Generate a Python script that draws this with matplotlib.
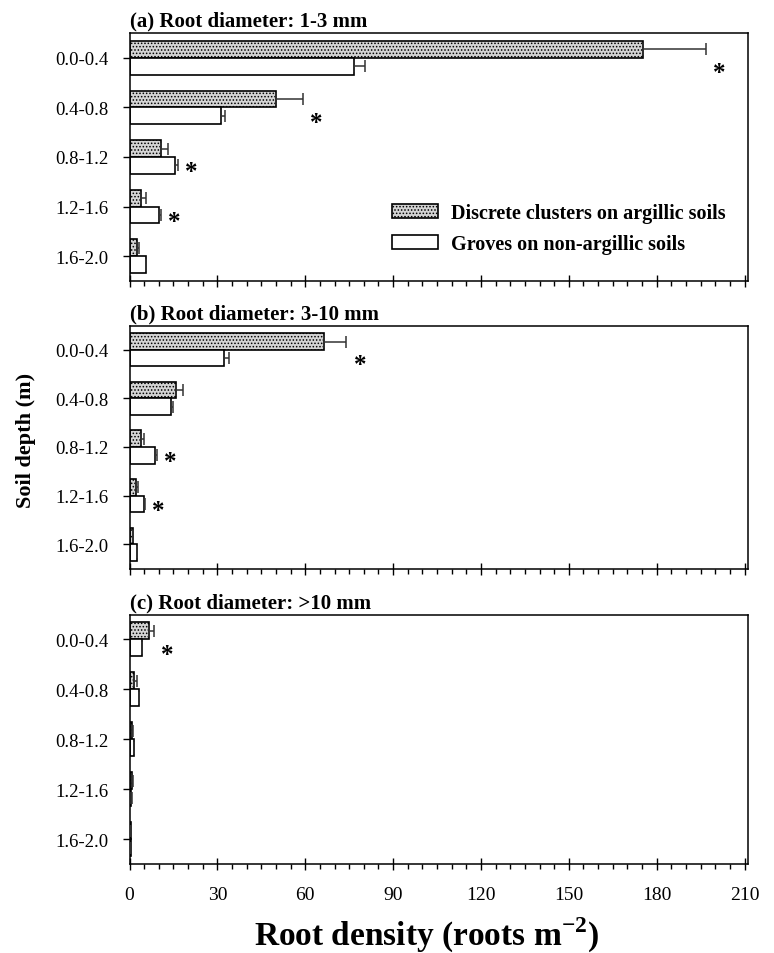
import matplotlib
matplotlib.use('Agg')
import matplotlib.pyplot as plt
import numpy as np
from matplotlib.patches import Patch

plt.rcParams['font.family'] = ['Liberation Serif', 'DejaVu Serif']
plt.rcParams['hatch.linewidth'] = 0.7

depths = ['0.0-0.4', '0.4-0.8', '0.8-1.2', '1.2-1.6', '1.6-2.0']
titles = ['(a) Root diameter: 1-3 mm', '(b) Root diameter: 3-10 mm', '(c) Root diameter: >10 mm']

# discrete clusters on argillic soils (mean, SE)
clusters_a = [175.3, 49.9, 10.9, 4.0, 2.7]
clusters_a_se = [21.5, 9.3, 2.3, 1.5, 0.7]
clusters_b = [66.3, 15.8, 3.9, 2.2, 1.1]
clusters_b_se = [7.7, 2.4, 1.1, 0.6, 0.2]
clusters_c = [6.8, 1.7, 0.9, 0.9, 0.35]
clusters_c_se = [1.5, 0.8, 0.2, 0.2, 0.05]

# groves on non-argillic soils (mean, SE)
groves_a = [76.7, 31.1, 15.5, 10.2, 5.5]
groves_a_se = [3.7, 1.6, 1.1, 0.6, 0.3]
groves_b = [32.3, 14.1, 8.8, 5.0, 2.5]
groves_b_se = [1.7, 0.6, 0.5, 0.3, 0.1]
groves_c = [4.1, 3.1, 1.4, 0.6, 0.35]
groves_c_se = [0.3, 0.2, 0.1, 0.1, 0.05]

# significant difference markers
sig_a = [True, True, True, True, False]
sig_b = [True, False, True, True, False]
sig_c = [True, False, False, False, False]

panels = [
    (clusters_a, clusters_a_se, groves_a, groves_a_se, sig_a),
    (clusters_b, clusters_b_se, groves_b, groves_b_se, sig_b),
    (clusters_c, clusters_c_se, groves_c, groves_c_se, sig_c),
]

fig = plt.figure(figsize=(7.74, 9.54), dpi=100)
W, H = 774, 954
left_px, right_px = 129.5, 747.5
# (top, bottom) of each panel in pixels
rows_px = [(34, 282), (326.5, 569.5), (615.5, 865)]

y = np.arange(len(depths))
h = 0.34
axes = []
for i, ((cm, cse, gm, gse, sig), (top, bot)) in enumerate(zip(panels, rows_px)):
    ax = fig.add_axes([left_px / W, 1 - bot / H, (right_px - left_px) / W, (bot - top) / H])
    axes.append(ax)
    ax.barh(y - h / 2, cm, height=h, color='#d4d4d4', edgecolor='black',
            hatch='.....', linewidth=1.2, zorder=2)
    ax.barh(y + h / 2, gm, height=h, color='white', edgecolor='black',
            linewidth=1.2, zorder=2)
    ax.errorbar(cm, y - h / 2, xerr=[np.zeros(len(cm)), cse], fmt='none',
                ecolor='#333333', elinewidth=1.1, capsize=4.5, capthick=1.1, zorder=3)
    ax.errorbar(gm, y + h / 2, xerr=[np.zeros(len(gm)), gse], fmt='none',
                ecolor='#333333', elinewidth=1.1, capsize=4.5, capthick=1.1, zorder=3)
    for j, s in enumerate(sig):
        if s:
            xs = max(cm[j] + cse[j], gm[j] + gse[j]) + 2.5
            ax.text(xs, y[j] + 0.3, '*', fontsize=18, fontweight='bold',
                    ha='left', va='center')

    ax.set_xlim(0, 211)
    ax.set_ylim(4.5, -0.5)
    ax.set_yticks(y)
    ax.set_yticklabels(depths, fontsize=13.5)
    ax.set_xticks(np.arange(0, 211, 30))
    ax.set_xticks(np.arange(0, 211, 5), minor=True)
    ax.tick_params(axis='x', which='major', direction='inout', length=9, width=1)
    ax.tick_params(axis='x', which='minor', direction='out', length=3.5, width=1)
    ax.tick_params(axis='y', which='major', direction='out', length=5, width=1, pad=10)
    ax.tick_params(top=False, right=False)
    if i < 2:
        ax.tick_params(axis='x', labelbottom=False)
    else:
        ax.tick_params(axis='x', labelsize=14, pad=11)
    for sp in ax.spines.values():
        sp.set_linewidth(1.1)
    ax.text(0.0, 1.01, titles[i], transform=ax.transAxes, fontsize=15,
            fontweight='bold', ha='left', va='bottom')

leg_handles = [Patch(facecolor='#d4d4d4', edgecolor='black', hatch='.....', linewidth=1.2),
               Patch(facecolor='white', edgecolor='black', linewidth=1.2)]
axes[0].legend(leg_handles, ['Discrete clusters on argillic soils', 'Groves on non-argillic soils'],
               loc='center left', bbox_to_anchor=(0.425, 0.212), frameon=False,
               borderpad=0, borderaxespad=0, handlelength=2.3, handleheight=0.65,
               handletextpad=0.6, labelspacing=0.55,
               prop={'weight': 'bold', 'size': 14.5})

fig.text(26 / W, 1 - 440 / H, 'Soil depth (m)', rotation=90, fontsize=16,
         fontweight='bold', ha='center', va='center')
fig.text(426 / W, 1 - 935 / H, 'Root density (roots m$^{\\mathregular{-2}}$)',
         fontsize=24, fontweight='bold', ha='center', va='center')

fig.savefig('out.png', dpi=100)
